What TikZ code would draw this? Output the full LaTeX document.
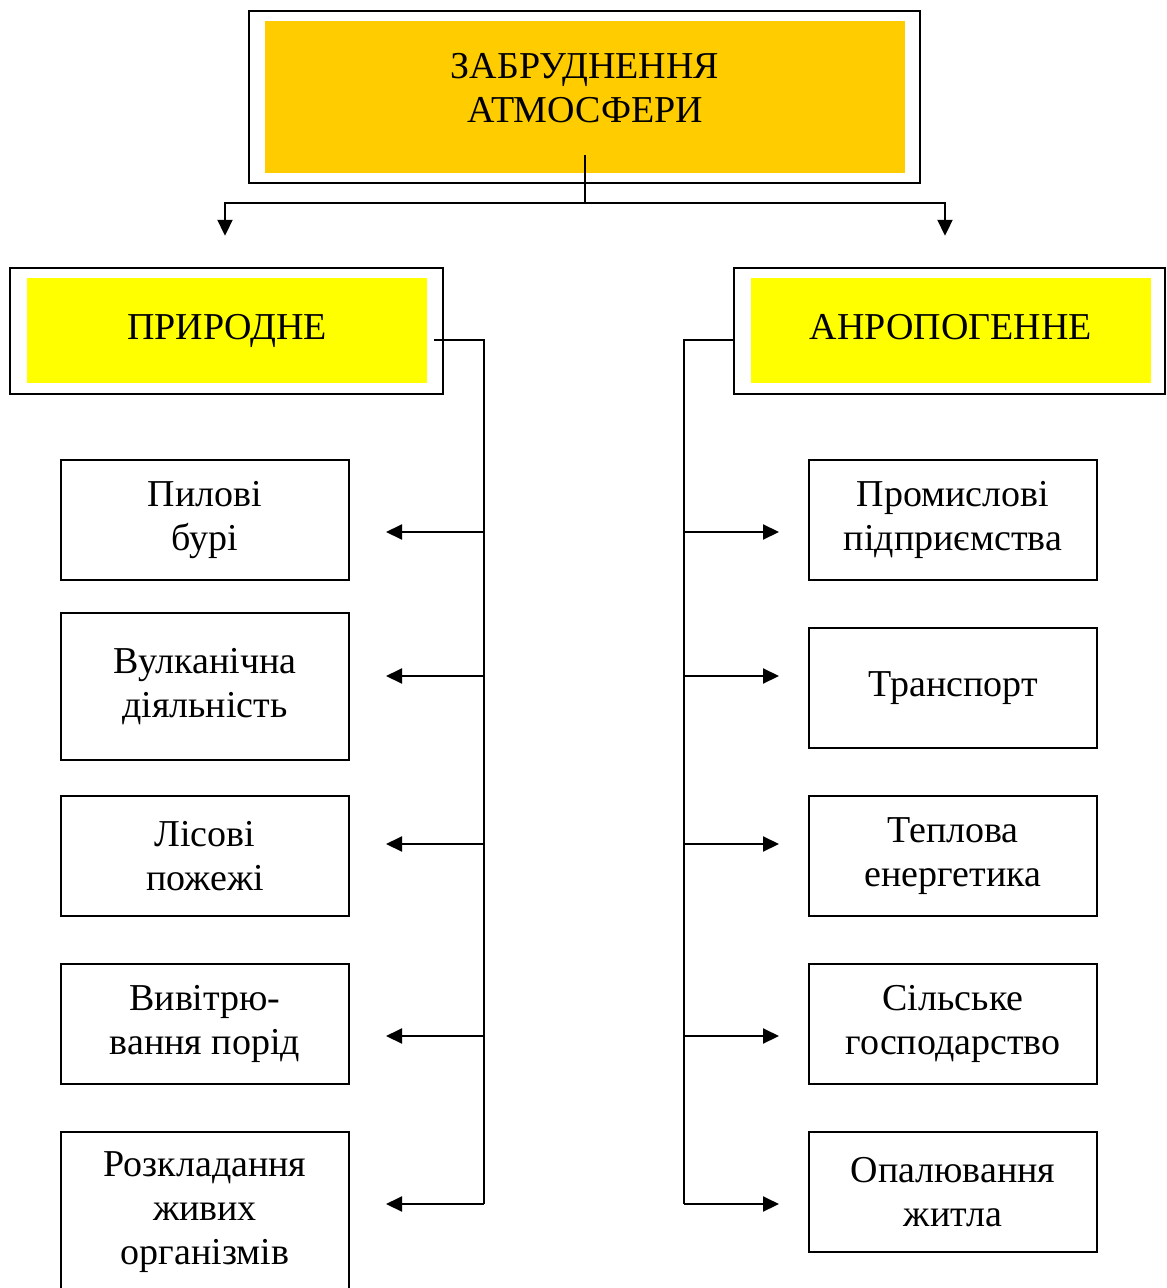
\documentclass[tikz,border=0pt]{standalone}
\usepackage{fontspec}
\setmainfont{Liberation Serif}
\usetikzlibrary{arrows.meta}

\definecolor{zabfill}{rgb}{1.0,0.8,0.0}
\definecolor{kindfill}{rgb}{1.0,1.0,0.0}

\tikzset{
  lbl/.style={font=\fontsize{19}{22}\selectfont,align=center},
  frame/.style={draw,line width=1.2pt,inner sep=0pt},
  kind/.style={lbl,fill=kindfill,inner sep=0pt,minimum width=200pt,minimum height=52.5pt,text height=13pt,text depth=4pt},
  item/.style={lbl,draw,line width=1pt,inner sep=0pt,minimum width=144pt},
  link/.style={line width=1pt},
  arr/.style={line width=1pt,-{Triangle[length=8pt,width=7.5pt]}}
}

\begin{document}
\begin{tikzpicture}[x=0.5pt,y=-0.5pt]
\useasboundingbox (0,0) rectangle (1166,1288);
\clip (0,0) rectangle (1166,1288);
% top block
\node[frame,minimum width=335.5pt,minimum height=86pt] (zab) at (584.5,97) {};
\node[fill=zabfill,inner sep=0pt,minimum width=320pt,minimum height=76pt] (zabin) at (585,97) {};
\node[lbl] (zabtxt) at (585,88) {ЗАБРУДНЕННЯ\\АТМОСФЕРИ};
% two kinds
\node[frame,minimum width=216.5pt,minimum height=63pt] (pryr) at (226.5,331) {};
\node[kind] (pryrin) at (227,330.5) {ПРИРОДНЕ};
\node[frame,minimum width=215.5pt,minimum height=63pt] (anth) at (949.5,331) {};
\node[kind] (anthin) at (951,330.5) {АНРОПОГЕННЕ};
% natural sources
\node[item,minimum height=60pt] (pyl) at (205,520) {Пилові\\бурі};
\node[item,minimum height=73.5pt] (vulk) at (205,686.5) {Вулканічна\\діяльність};
\node[item,minimum height=60pt] (lis) at (205,856) {Лісові\\пожежі};
\node[item,minimum height=60pt] (vyv) at (205,1024) {Вивітрю-\\вання порід};
\node[item,minimum height=80pt] (rozk) at (205,1212) {Розкладання\\живих\\організмів};
% man-made sources
\node[item,minimum height=60pt] (prom) at (953,520) {Промислові\\підприємства};
\node[item,minimum height=60pt] (trans) at (953,688) {Транспорт};
\node[item,minimum height=60pt] (tepl) at (953,856) {Теплова\\енергетика};
\node[item,minimum height=60pt] (silsk) at (953,1024) {Сільське\\господарство};
\node[item,minimum height=60pt] (opal) at (953,1192) {Опалювання\\житла};
% connectors
\coordinate (split) at (585,203);
\coordinate (lbus) at (484,1204);
\coordinate (rbus) at (684,1204);
\draw[link] ([yshift=9pt]zabin.south) -- (split);
\draw[arr] (split) -| ([xshift=-0.75pt,yshift=15.5pt]pryr.north);
\draw[arr] (split) -| ([xshift=-2.25pt,yshift=15.5pt]anth.north);
\draw[link] ([xshift=3.5pt,yshift=-4.75pt]pryrin.east) -| (lbus);
\draw[link] ([yshift=-4.5pt]anth.west) -| (rbus);
\foreach \n/\y in {pyl/532,vulk/676,lis/844,vyv/1036,rozk/1204}
  \draw[arr,shorten >=18pt] (lbus |- 0,\y) -- (\n.east |- 0,\y);
\foreach \n/\y in {prom/532,trans/676,tepl/844,silsk/1036,opal/1204}
  \draw[arr,shorten >=14.5pt] (rbus |- 0,\y) -- (\n.west |- 0,\y);
\end{tikzpicture}
\end{document}
